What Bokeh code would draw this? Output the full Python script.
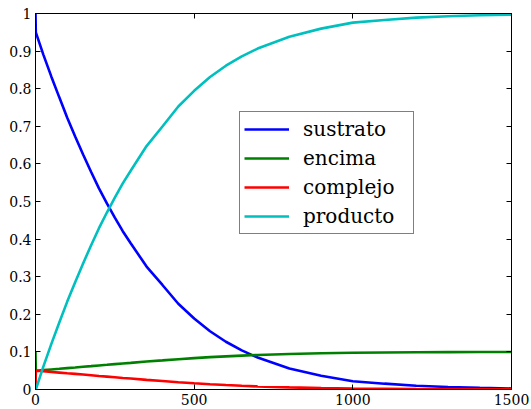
from bokeh.plotting import figure
from bokeh.models import Range1d, FixedTicker, LinearAxis, CustomJSTickFormatter, Legend, LegendItem
from bokeh.embed import file_html
from bokeh.resources import INLINE

tiempo = [0, 1, 25, 50, 75, 100, 125, 150, 175, 200, 225, 250, 275, 300, 350,
          400, 450, 500, 550, 600, 650, 700, 800, 900, 1000, 1100, 1200, 1300,
          1400, 1500]
sustrato = [1.0, 0.95, 0.89, 0.832, 0.777, 0.723, 0.673, 0.625, 0.579, 0.535,
            0.495, 0.457, 0.421, 0.389, 0.327, 0.278, 0.228, 0.189, 0.155,
            0.127, 0.104, 0.085, 0.056, 0.0365, 0.022, 0.0155, 0.010, 0.0065,
            0.0042, 0.0027]
encima = [0.1, 0.05, 0.0516, 0.0533, 0.055, 0.0568, 0.0585, 0.0603, 0.0621,
          0.064, 0.0657, 0.0675, 0.0693, 0.0709, 0.0744, 0.0774, 0.0806,
          0.0834, 0.086, 0.0882, 0.0901, 0.0918, 0.0944, 0.0963, 0.0977,
          0.0984, 0.099, 0.0993, 0.0996, 0.0997]
complejo = [0.0, 0.05, 0.0484, 0.0467, 0.045, 0.0432, 0.0415, 0.0397, 0.0379,
            0.036, 0.0343, 0.0325, 0.0307, 0.0291, 0.0256, 0.0226, 0.0194,
            0.0166, 0.014, 0.0118, 0.0099, 0.0082, 0.0056, 0.0037, 0.0023,
            0.0016, 0.001, 0.0007, 0.0004, 0.0003]
producto = [0.0, 0.0, 0.0616, 0.1213, 0.178, 0.2338, 0.2855, 0.3353, 0.3831,
            0.429, 0.4707, 0.5105, 0.5483, 0.5819, 0.6474, 0.6994, 0.7526,
            0.7944, 0.831, 0.8612, 0.8861, 0.9068, 0.9384, 0.9598, 0.9757,
            0.9829, 0.989, 0.9928, 0.9954, 0.997]

series_names = ["sustrato", "encima", "complejo", "producto"]
series_colors = ["#0000ff", "#008000", "#ff0000", "#00bfbf"]
x_ticks = [0, 500, 1000, 1500]
y_ticks = [0, 0.1, 0.2, 0.3, 0.4, 0.5, 0.6, 0.7, 0.8, 0.9, 1.0]

FONT = "DejaVu Serif"

p = figure(width=531, height=409, output_backend="svg", toolbar_location=None,
           x_range=Range1d(0, 1500), y_range=Range1d(0, 1),
           min_border_left=35, min_border_right=20, min_border_top=13,
           min_border_bottom=20)
p.grid.visible = False
p.outline_line_color = "black"
p.outline_line_width = 1
p.background_fill_color = "white"
p.border_fill_color = "white"

fmt = CustomJSTickFormatter(code="return String(Math.round(tick*10)/10);")
blank = CustomJSTickFormatter(code="return '';")

bottom_axis = p.below[0]
left_axis = p.left[0]
bottom_axis.ticker = FixedTicker(ticks=x_ticks)
left_axis.ticker = FixedTicker(ticks=y_ticks)
bottom_axis.formatter = fmt
left_axis.formatter = fmt

top_axis = LinearAxis(ticker=FixedTicker(ticks=x_ticks), formatter=blank)
right_axis = LinearAxis(ticker=FixedTicker(ticks=y_ticks), formatter=blank)
p.add_layout(top_axis, "above")
p.add_layout(right_axis, "right")

for ax in [bottom_axis, left_axis, top_axis, right_axis]:
    ax.major_tick_in = 5
    ax.major_tick_out = 0
    ax.minor_tick_in = 0
    ax.minor_tick_out = 0
    ax.axis_line_color = "black"
    ax.major_tick_line_color = "black"
    ax.major_label_text_font = FONT
    ax.major_label_text_font_size = "14px"
    ax.major_label_text_color = "black"
    ax.major_label_standoff = 4

for ax in [top_axis, right_axis]:
    ax.major_label_text_font_size = "1px"
    ax.major_label_standoff = 0

data = [sustrato, encima, complejo, producto]
renderers = []
for name, ys, col in zip(series_names, data, series_colors):
    r = p.line(tiempo, ys, line_color=col, line_width=2.6)
    renderers.append(r)

legend = Legend(items=[LegendItem(label=n, renderers=[r]) for n, r in zip(series_names, renderers)],
                location=(204, 155))
legend.label_text_font = FONT
legend.label_text_font_size = "20px"
legend.label_text_color = "black"
legend.border_line_color = "black"
legend.border_line_width = 1
legend.background_fill_alpha = 1
legend.padding = 4
legend.spacing = 3
legend.glyph_width = 45
legend.glyph_height = 20
legend.label_standoff = 14
legend.label_height = 26
legend.label_width = 106
legend.margin = 0
p.add_layout(legend)

open("out.html", "w").write(file_html(p, INLINE))
